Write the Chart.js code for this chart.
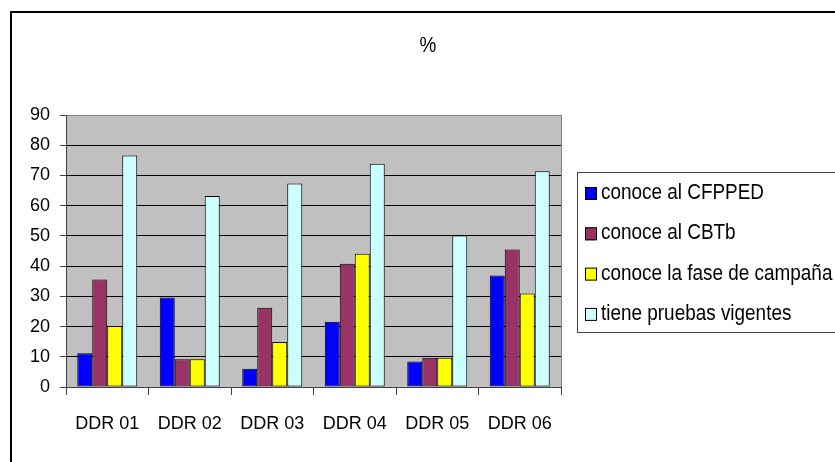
<!DOCTYPE html>
<html>
<head>
<meta charset="utf-8">
<script src="https://cdn.jsdelivr.net/npm/chart.js@4"></script>
<style>
  body { margin: 0; background: #fff; }
  canvas { display: block; }
</style>
</head>
<body>
<canvas id="grafico" width="835" height="462"></canvas>
<script>
// datos
var categorias = ['DDR 01', 'DDR 02', 'DDR 03', 'DDR 04', 'DDR 05', 'DDR 06'];
var conoceCFPPED = [11.2, 29.6, 6.0, 21.6, 8.4, 36.9];
var conoceCBTb = [35.6, 9.2, 26.2, 40.8, 9.7, 45.5];
var conoceFase = [20.2, 9.2, 14.9, 44.1, 9.7, 30.9];
var tienePruebas = [76.6, 63.2, 67.3, 73.9, 50.1, 71.4];
var nombresSeries = ['conoce al CFPPED', 'conoce al CBTb', 'conoce la fase de campaña', 'tiene pruebas vigentes'];
var ticksY = [0, 10, 20, 30, 40, 50, 60, 70, 80, 90];

var fuente = "'Liberation Sans', Arial, sans-serif";
var colores = ['#0000FF', '#993366', '#FFFF00', '#CCFFFF'];
var valores = [conoceCFPPED, conoceCBTb, conoceFase, tienePruebas];

Chart.defaults.font.family = fuente;
Chart.defaults.font.size = 18;
Chart.defaults.color = '#000';

var datasets = [];
nombresSeries.forEach(function (nombre, i) {
    datasets.push({
        label: nombre,
        data: valores[i],
        backgroundColor: colores[i],
        borderColor: '#000',
        borderWidth: 1,
        borderSkipped: false,
        categoryPercentage: 0.727,
        barPercentage: 1.0
    });
});

// texto estrecho (como Arial Narrow)
function textoEstrecho(ctx, texto, x, y, alin) {
    ctx.save();
    ctx.translate(x, y);
    ctx.scale(0.86, 1);
    ctx.font = '22px ' + fuente;
    ctx.textAlign = alin;
    ctx.textBaseline = 'middle';
    ctx.fillStyle = '#000';
    ctx.fillText(texto, 0, 0);
    ctx.restore();
}

// fondo gris, marco, titulo y leyenda
const marco = {
    id: 'marco',
    beforeDraw: function (chart) {
        var ctx = chart.ctx, a = chart.chartArea;
        ctx.save();
        ctx.fillStyle = '#fff';
        ctx.fillRect(0, 0, chart.width, chart.height);
        ctx.fillStyle = '#C0C0C0';
        ctx.fillRect(a.left, a.top, a.right - a.left, a.bottom - a.top);
        ctx.restore();
    },
    afterDraw: function (chart) {
        var ctx = chart.ctx, a = chart.chartArea;
        ctx.save();
        // borde derecho del area
        ctx.strokeStyle = '#808080';
        ctx.lineWidth = 1;
        ctx.beginPath();
        ctx.moveTo(a.right + 0.5, a.top);
        ctx.lineTo(a.right + 0.5, a.bottom);
        ctx.stroke();
        // marco exterior
        ctx.strokeStyle = '#000';
        ctx.lineWidth = 2;
        ctx.strokeRect(11, 12, 840, 470);
        // titulo
        textoEstrecho(ctx, '%', 428, 46, 'center');
        // leyenda
        ctx.strokeStyle = '#404040';
        ctx.lineWidth = 1;
        ctx.strokeRect(577.5, 172.5, 300, 160);
        chart.data.datasets.forEach(function (ds, i) {
            var y = 193 + i * 40.3;
            ctx.fillStyle = ds.backgroundColor;
            ctx.fillRect(585, y - 6, 11, 13);
            ctx.strokeStyle = '#000';
            ctx.strokeRect(585.5, y - 5.5, 11, 12);
            textoEstrecho(ctx, ds.label, 601, y, 'left');
        });
        ctx.restore();
    }
};

new Chart(document.getElementById('grafico'), {
    type: 'bar',
    data: { labels: categorias, datasets: datasets },
    options: {
        responsive: false,
        animation: false,
        layout: { padding: { top: 115, right: 274, left: 0, bottom: 0 } },
        plugins: {
            legend: { display: false },
            tooltip: { enabled: false }
        },
        scales: {
            x: {
                offset: true,
                grid: {
                    offset: true,
                    drawOnChartArea: false,
                    tickLength: 8,
                    tickColor: '#404040'
                },
                border: { color: '#404040' },
                ticks: { padding: 18, maxRotation: 0 },
                afterFit: function (scale) { scale.height = 75; }
            },
            y: {
                min: 0,
                max: 90,
                afterBuildTicks: function (scale) {
                    scale.ticks = ticksY.map(function (v) { return { value: v }; });
                },
                grid: {
                    color: function (c) { return c.tick && c.tick.value === 90 ? '#808080' : '#000'; },
                    tickColor: '#404040',
                    tickLength: 6
                },
                border: { color: '#404040' },
                ticks: { padding: 10 },
                afterFit: function (scale) { scale.width = 66; }
            }
        }
    },
    plugins: [marco]
});
</script>
</body>
</html>
